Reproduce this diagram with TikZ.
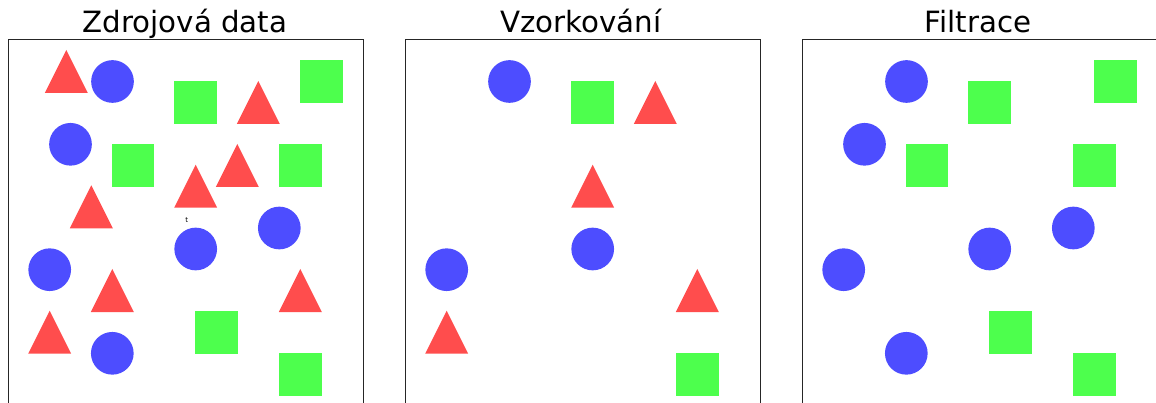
\documentclass[tikz,border=0pt]{standalone}
\usepackage{fontspec}
\setmainfont{DejaVu Sans}
\definecolor{redc}{RGB}{255,77,77}
\definecolor{bluec}{RGB}{77,77,255}
\definecolor{greenc}{RGB}{77,255,77}
\newcommand\mydot[2]{\fill[bluec] (#1,#2) circle (21.35);}
\newcommand\mysq[2]{\fill[greenc] (#1-21.35,#2-21.35) rectangle (#1+21.35,#2+21.35);}
\newcommand\mytri[2]{\fill[redc] (#1,#2) -- (#1+21.5,#2+43) -- (#1-21.5,#2+43) -- cycle;}
\tikzset{titletext/.style={anchor=base,inner sep=0pt,font=\fontsize{29.3}{32}\selectfont},
  frame/.style={draw=black!85,line width=1pt}}
\begin{document}
\begin{tikzpicture}[x=1pt,y=-1pt]
\useasboundingbox (0,0) rectangle (1156,403);
\clip (0,0) rectangle (1156,403);
\fill[white] (0,0) rectangle (1156,403);
% frames
\foreach \o in {0,397,794}{
  \draw[frame] (8+\o,410) -- (8+\o,40) -- (363+\o,40) -- (363+\o,410);
}
\node[titletext] (t1) at (185,33) {Zdrojová data};
\node[titletext] (t2) at (581,33) {Vzorkování};
\node[titletext] (t3) at (978,33) {Filtrace};
% panel 1
\begin{scope}
\mytri{66.3}{50}
\mytri{258.3}{81}
\mytri{195.7}{164.7}
\mytri{237.3}{144}
\mytri{91.3}{185.3}
\mytri{112.3}{269}
\mytri{300.3}{269}
\mytri{49.7}{310.7}
\mydot{112.5}{81.5}
\mydot{70.5}{144.3}
\mydot{279.3}{228}
\mydot{195.7}{249}
\mydot{49.7}{269.7}
\mydot{112.3}{353.3}
\mysq{195.5}{102.5}
\mysq{321.5}{81.5}
\mysq{133}{165.5}
\mysq{300.3}{165.5}
\mysq{216.7}{332.5}
\mysq{300.3}{374.3}
\node[font=\fontsize{7}{8}\selectfont,inner sep=0pt] (tlabel) at (186.7,220.3) {t};
\end{scope}
% panel 2
\begin{scope}[xshift=397pt]
\mydot{112.5}{81.5}
\mydot{195.7}{249}
\mydot{49.7}{269.7}
\mysq{195.5}{102.5}
\mysq{300.3}{374.3}
\mytri{258.3}{81}
\mytri{195.7}{164.7}
\mytri{300.3}{269}
\mytri{49.7}{310.7}
\end{scope}
% panel 3
\begin{scope}[xshift=794pt]
\mydot{112.5}{81.5}
\mydot{70.5}{144.3}
\mydot{279.3}{228}
\mydot{195.7}{249}
\mydot{49.7}{269.7}
\mydot{112.3}{353.3}
\mysq{195.5}{102.5}
\mysq{321.5}{81.5}
\mysq{133}{165.5}
\mysq{300.3}{165.5}
\mysq{216.7}{332.5}
\mysq{300.3}{374.3}
\end{scope}
\end{tikzpicture}
\end{document}
